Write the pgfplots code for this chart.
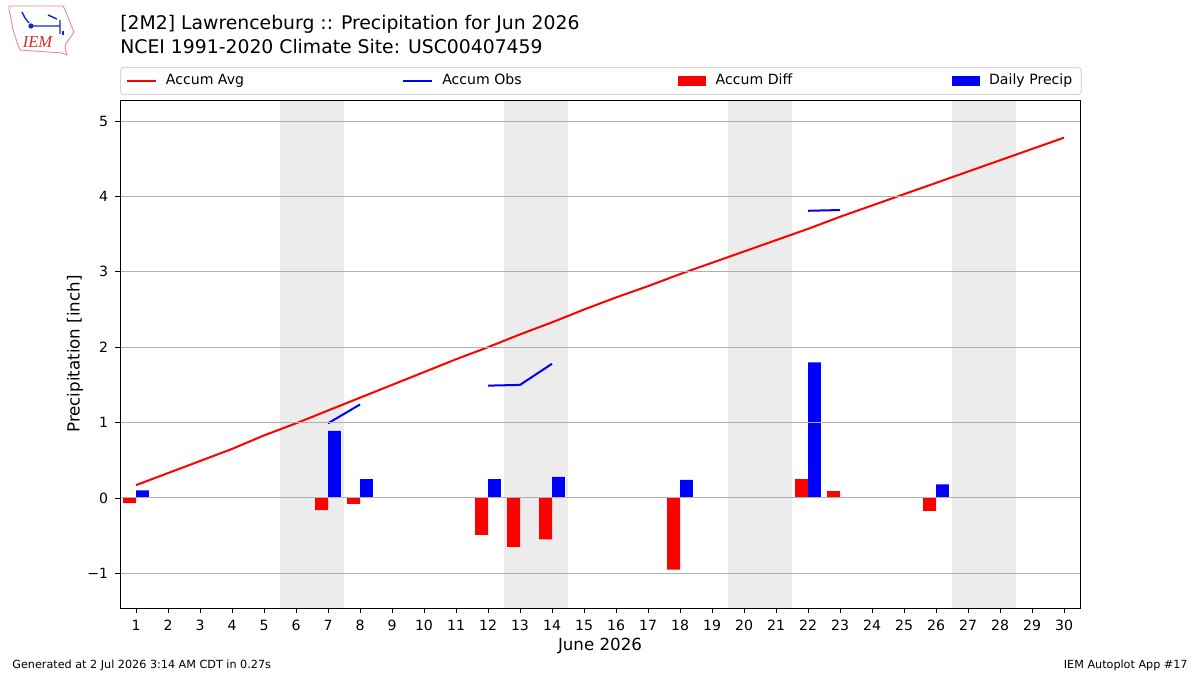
\documentclass[border=0pt]{standalone}
\usepackage{pgfplots}
\pgfplotsset{compat=1.18}
\usepackage{fontspec}
\setmainfont{DejaVu Sans}
\newfontfamily\logofont{Liberation Serif}
\definecolor{shade}{RGB}{236,236,236}
\definecolor{gridgray}{RGB}{176,176,176}
\definecolor{legframe}{RGB}{214,214,214}
\definecolor{logored}{RGB}{215,40,40}
\definecolor{logoblue}{RGB}{20,40,200}
\begin{document}
\begin{tikzpicture}
\fill[white] (0,0) rectangle (600pt,337.5pt);
% logo
\draw[logored!55, line width=0.45pt] (4.5pt,334.5pt) -- (31.5pt,334.5pt) -- (32.5pt,332.5pt) -- (34pt,329pt) -- (35.5pt,325pt) -- (37pt,321.5pt) -- (35pt,318.5pt) -- (33pt,316pt) -- (32.5pt,313.5pt) -- (33.5pt,310pt) -- (31pt,311pt) -- (10pt,312.5pt) -- (8.5pt,316.5pt) -- (6.5pt,322.5pt) -- (5.5pt,328.5pt) -- (4.5pt,332.5pt) -- cycle;
\draw[logoblue, line width=0.7pt] (15.5pt,324.5pt) -- (30pt,324.5pt) (30pt,327.5pt) -- (30pt,320.5pt) (24pt,330pt) -- (28.5pt,328pt) (11pt,331.5pt) -- (12.5pt,328.5pt) -- (14.5pt,326pt);
\fill[logoblue] (15.5pt,324.5pt) circle (1.3pt);
\fill[logoblue] (31pt,320pt) rectangle (32pt,322pt);
\node[logored, font=\logofont\itshape\fontsize{8.3}{9}\selectfont] at (18.75pt,316.5pt) {IEM};
% titles
\node[anchor=base west, font=\fontsize{9.4}{11}\selectfont, inner sep=0pt] at (60pt,322.75pt) {[2M2] Lawrenceburg :: Precipitation for Jun 2026};
\node[anchor=base west, font=\fontsize{9.4}{11}\selectfont, inner sep=0pt] at (60pt,310.9pt) {NCEI 1991-2020 Climate Site: USC00407459};
% footer
\node[anchor=base west, font=\fontsize{5.6}{6}\selectfont, inner sep=0pt] at (6pt,3pt) {Generated at 2 Jul 2026 3:14 AM CDT in 0.27s};
\node[anchor=base east, font=\fontsize{5.6}{6}\selectfont, inner sep=0pt] at (594pt,3pt) {IEM Autoplot App \#17};
\begin{axis}[
  axis on top,
  at={(60pt,33.5pt)}, anchor=south west,
  width=480pt, height=254pt, scale only axis,
  xmin=0.5, xmax=30.5, ymin=-1.46, ymax=5.28,
  xtick={1,...,30},
  ytick={-1,0,1,2,3,4,5},
  yticklabels={−1,0,1,2,3,4,5},
  ymajorgrids, grid style={gridgray, line width=0.5pt},
  axis line style={line width=0.45pt},
  tick style={black, line width=0.45pt},
  major tick length=2.4pt, tick align=outside,
  xtick pos=bottom, ytick pos=left,
  tick label style={font=\fontsize{7.05}{8}\selectfont},
  /pgf/number format/assume math mode=true,
  xlabel={June 2026}, ylabel={Precipitation [inch]},
  label style={font=\fontsize{8.33}{10}\selectfont},
  xlabel style={at={(axis description cs:0.5,-0.0745)}, anchor=center},
  ylabel style={at={(axis description cs:-0.0469,0.5)}, anchor=center},
  unbounded coords=jump,
  legend columns=4, legend cell align=left,
  legend style={at={(0,1)}, anchor=south west, yshift=2.5pt, draw=legframe, line width=0.5pt,
    rounded corners=1.5pt, inner xsep=2.5pt, inner ysep=1.3pt,
    font=\fontsize{7.05}{8}\selectfont,
    /tikz/every odd column/.append style={column sep=2.7pt},
    /tikz/every even column/.append style={column sep=76.0pt}},
]
% weekend shading
\addplot[fill=shade, draw=none, forget plot] coordinates {(5.5,-1.46)(7.5,-1.46)(7.5,5.28)(5.5,5.28)} -- cycle;
\addplot[fill=shade, draw=none, forget plot] coordinates {(12.5,-1.46)(14.5,-1.46)(14.5,5.28)(12.5,5.28)} -- cycle;
\addplot[fill=shade, draw=none, forget plot] coordinates {(19.5,-1.46)(21.5,-1.46)(21.5,5.28)(19.5,5.28)} -- cycle;
\addplot[fill=shade, draw=none, forget plot] coordinates {(26.5,-1.46)(28.5,-1.46)(28.5,5.28)(26.5,5.28)} -- cycle;
% accum avg
\addplot[red, line width=1pt, mark=none,
  legend image code/.code={\draw[red, line width=1pt, sharp corners] (0pt,0pt) -- (14.5pt,0pt);}]
  coordinates {(1,0.17)(2,0.33)(3,0.49)(4,0.65)(5,0.83)(6,0.99)(7,1.16)(8,1.33)(9,1.50)(10,1.67)
  (11,1.84)(12,2.00)(13,2.17)(14,2.33)(15,2.50)(16,2.66)(17,2.81)(18,2.97)(19,3.12)(20,3.27)
  (21,3.42)(22,3.57)(23,3.73)(24,3.88)(25,4.03)(26,4.18)(27,4.33)(28,4.48)(29,4.63)(30,4.78)};
\addlegendentry{\makebox[40pt][l]{Accum Avg}}
% accum obs
\addplot[blue, line width=1pt, mark=none,
  legend image code/.code={\draw[blue, line width=1pt, sharp corners] (0pt,0pt) -- (14.5pt,0pt);}]
  coordinates {(7,0.99)(8,1.24)(9,nan)(12,1.49)(13,1.50)(14,1.78)(15,nan)(22,3.81)(23,3.82)};
\addlegendentry{\makebox[40pt][l]{Accum Obs}}
% accum diff
\addplot[ybar, bar width=6.4pt, bar shift=-3.2pt, fill=red, draw=none,
  legend image code/.code={\fill[red, sharp corners] (0.5pt,-2.5pt) rectangle (14.5pt,2.5pt);}]
  coordinates {(1,-0.07)(7,-0.16)(8,-0.08)(12,-0.49)(13,-0.65)(14,-0.55)(18,-0.95)(22,0.25)(23,0.09)(26,-0.17)};
\addlegendentry{\makebox[40pt][l]{Accum Diff}}
% daily precip
\addplot[ybar, bar width=6.4pt, bar shift=3.2pt, fill=blue, draw=none,
  legend image code/.code={\fill[blue, sharp corners] (0.5pt,-2.5pt) rectangle (14.5pt,2.5pt);}]
  coordinates {(1,0.10)(7,0.89)(8,0.25)(12,0.25)(13,0.01)(14,0.28)(18,0.24)(22,1.80)(23,0.01)(26,0.18)};
\addlegendentry{Daily Precip}
\end{axis}
\end{tikzpicture}
\end{document}
